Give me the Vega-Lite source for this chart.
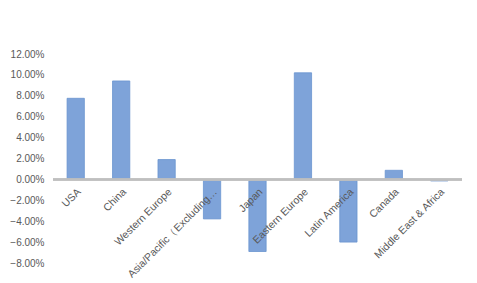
{
  "$schema": "https://vega.github.io/schema/vega-lite/v6.json",
  "width": 409,
  "height": 209,
  "autosize": {"type": "none"},
  "padding": {"left": 53, "top": 54, "right": 15, "bottom": 20},
  "background": "white",
  "config": {"view": {"stroke": null}, "font": "Liberation Sans"},
  "data": {"values": [
    {"region": "USA", "growth": 0.0776},
    {"region": "China", "growth": 0.0942},
    {"region": "Western Europe", "growth": 0.019},
    {"region": "Asia/Pacific（Excluding Japan）", "growth": -0.0378},
    {"region": "Japan", "growth": -0.069},
    {"region": "Eastern Europe", "growth": 0.102},
    {"region": "Latin America", "growth": -0.06},
    {"region": "Canada", "growth": 0.0087},
    {"region": "Middle East & Africa", "growth": -0.0015}
  ]},
  "layer": [
    {
      "mark": {"type": "bar", "color": "#7ea3d9", "stroke": "#6a94cf", "strokeWidth": 0.8},
      "encoding": {
        "x": {"field": "region", "type": "nominal", "sort": null,
              "scale": {"paddingInner": 0.62, "paddingOuter": 0.31},
              "axis": {"title": null, "orient": "bottom", "offset": -83.6, "domain": false, "ticks": false,
                       "labelAngle": -45, "labelFontSize": 10.5, "labelColor": "#595959",
                       "labelPadding": 7, "labelLimit": 122, "labelOverlap": false, "zindex": 1}},
        "y": {"field": "growth", "type": "quantitative",
              "scale": {"domain": [-0.08, 0.12], "nice": false, "zero": false},
              "axis": {"title": null, "format": ".2%", "tickCount": 10,
                       "domain": false, "ticks": false, "grid": false, "labelFontSize": 10, "labelOverlap": false,
                       "labelColor": "#595959", "labelPadding": 9}}
      }
    },
    {
      "mark": {"type": "rule", "color": "#bfbfbf", "strokeWidth": 1.5},
      "encoding": {"y": {"datum": 0}}
    }
  ]
}
